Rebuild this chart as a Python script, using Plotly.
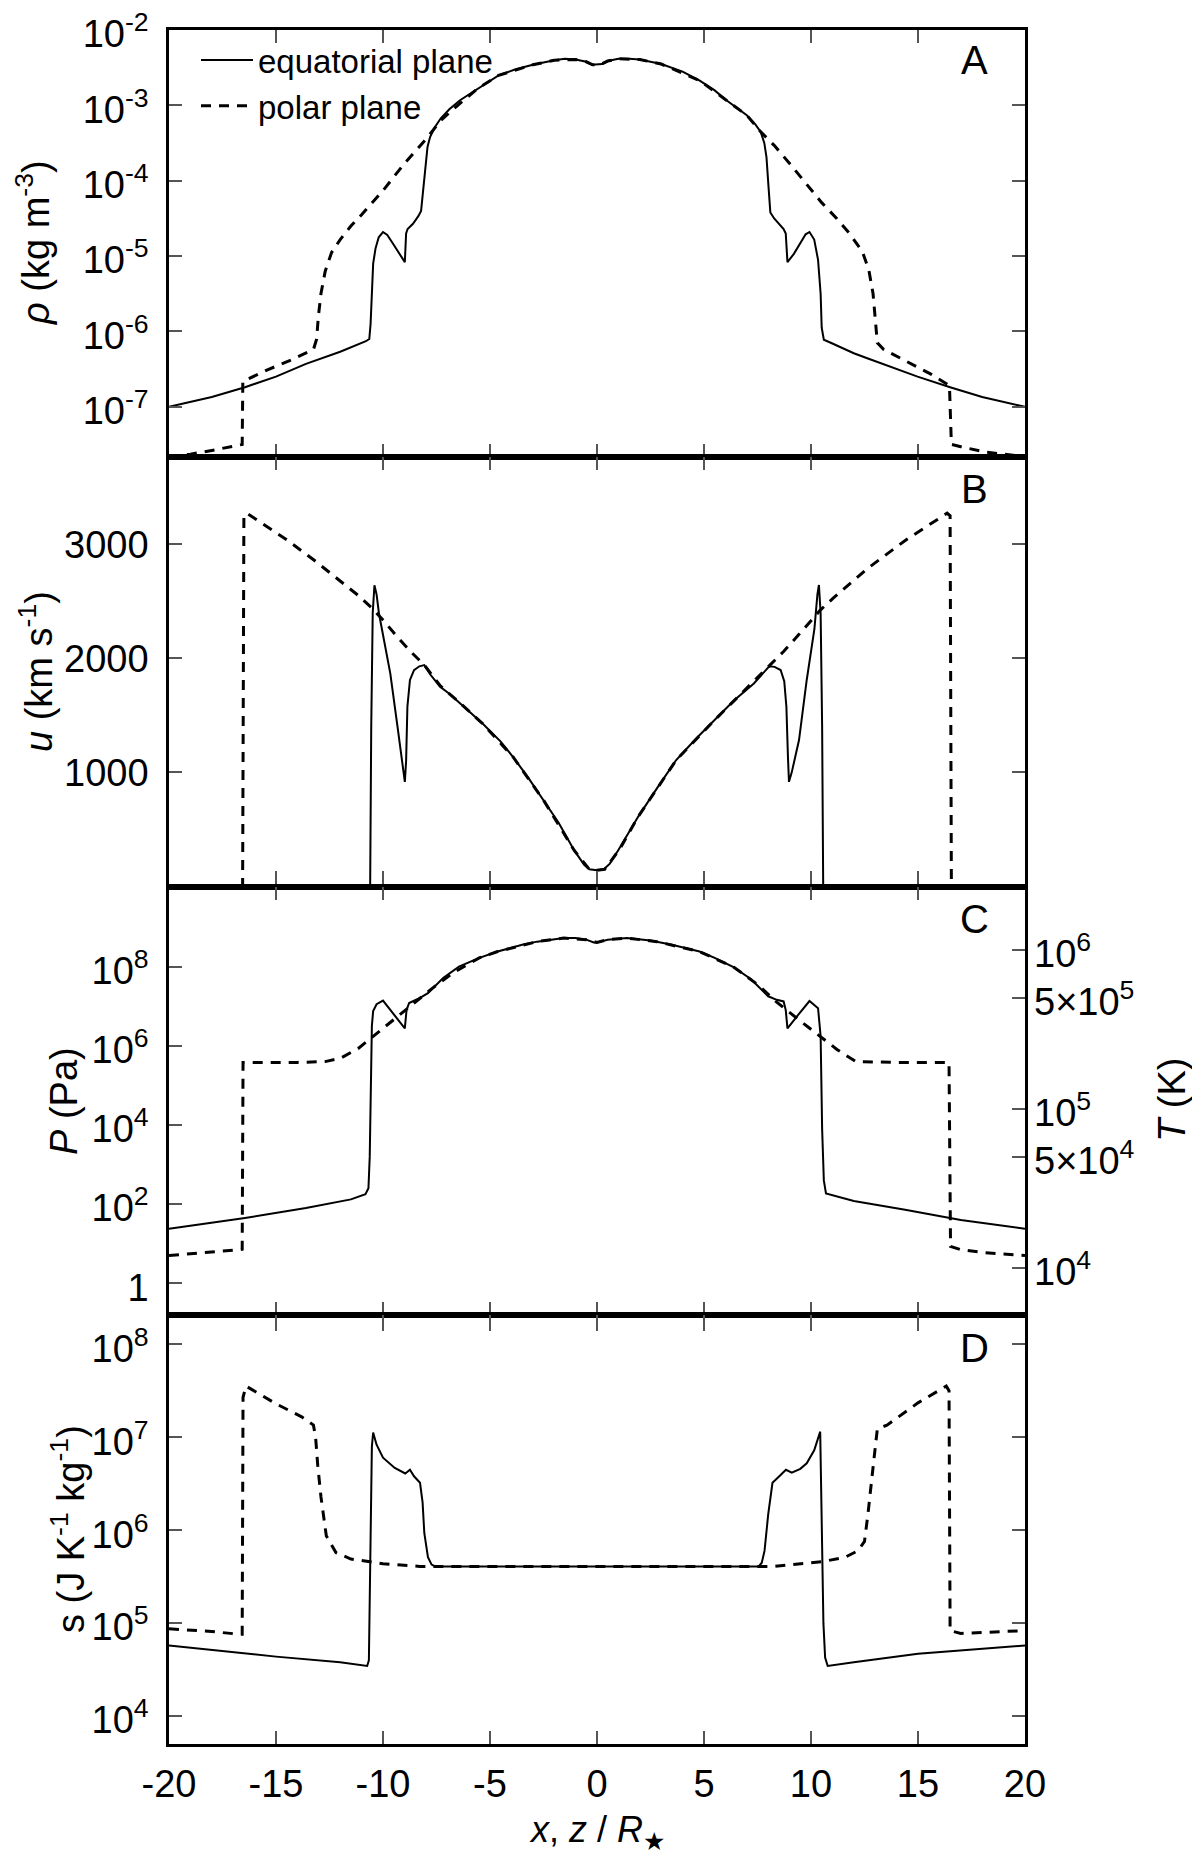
import plotly.graph_objects as go

# the page adds an 8 px body margin; positions below are page pixels and are
# shifted by this offset when converted to paper coordinates
PAGE_OFF = 8
W, H = 1200, 1861
FONT = "Liberation Sans, Arial, Helvetica, sans-serif"

# ---------------- data ----------------
x_ticks = [-20, -15, -10, -5, 0, 5, 10, 15, 20]
x_ticktext = ["-20", "-15", "-10", "-5", "0", "5", "10", "15", "20"]

# Panel A: density rho (kg m^-3), stored as log10(rho)
rho_eq_x = [-20.0, -18.0, -16.45, -15.0, -13.6, -12.0, -10.8, -10.64, -10.58, -10.52,
            -10.46, -10.35, -10.2, -10.0, -9.8, -9.5, -9.2, -8.98, -8.92, -8.85,
            -8.6, -8.35, -8.22, -8.12, -8.02, -7.92, -7.8, -7.6, -7.3, -6.9,
            -6.4, -5.6, -4.6, -3.8, -3.0, -2.0, -1.5, -1.0, -0.5, -0.25,
            0.0, 0.25, 0.5, 1.0, 1.5, 2.0, 3.0, 4.0, 4.8, 5.5,
            6.0, 6.5, 7.0, 7.4, 7.65, 7.82, 7.92, 8.02, 8.1, 8.28,
            8.5, 8.72, 8.82, 8.9, 9.2, 9.5, 9.75, 9.93, 10.15, 10.33,
            10.45, 10.5, 10.6, 11.0, 12.0, 12.66, 14.0, 14.98, 16.5, 18.0,
            20.0]
rho_eq_log10 = [-7.00, -6.87, -6.74, -6.60, -6.43, -6.27, -6.13, -6.10, -5.90, -5.40,
                -5.10, -4.90, -4.75, -4.68, -4.72, -4.85, -4.98, -5.08, -4.70, -4.64,
                -4.57, -4.47, -4.40, -4.10, -3.75, -3.55, -3.42, -3.30, -3.17, -3.05,
                -2.93, -2.78, -2.60, -2.52, -2.46, -2.40, -2.38, -2.39, -2.42, -2.46,
                -2.46, -2.45, -2.41, -2.38, -2.38, -2.39, -2.45, -2.55, -2.67, -2.80,
                -2.92, -3.02, -3.13, -3.25, -3.35, -3.50, -3.69, -4.10, -4.42, -4.50,
                -4.57, -4.64, -4.70, -5.08, -4.97, -4.82, -4.71, -4.68, -4.78, -5.05,
                -5.50, -5.95, -6.11, -6.16, -6.29, -6.36, -6.50, -6.60, -6.74, -6.87,
                -7.00]
rho_pol_x = [-20.0, -19.0, -18.0, -16.7, -16.58, -16.55, -16.3, -15.4, -14.3, -13.25,
             -13.1, -13.02, -12.9, -12.7, -12.4, -12.0, -11.5, -11.0, -10.0, -9.0,
             -8.0, -7.3, -6.6, -5.6, -4.6, -3.0, -2.0, -1.0, -0.5, -0.2,
             0.0, 0.2, 0.5, 1.0, 2.0, 3.0, 4.8, 6.0, 7.0, 7.65,
             8.28, 9.0, 9.62, 10.5, 11.2, 11.8, 12.4, 12.7, 12.9, 13.02,
             13.1, 13.4, 14.3, 15.56, 16.47, 16.56, 17.0, 18.1, 19.0, 20.0]
rho_pol_log10 = [-7.66, -7.63, -7.58, -7.50, -7.50, -6.66, -6.63, -6.51, -6.38, -6.24,
                 -6.10, -5.80, -5.50, -5.20, -4.95, -4.78, -4.60, -4.45, -4.13, -3.77,
                 -3.45, -3.20, -3.02, -2.78, -2.60, -2.46, -2.40, -2.39, -2.42, -2.46,
                 -2.46, -2.45, -2.41, -2.38, -2.39, -2.45, -2.67, -2.92, -3.13, -3.35,
                 -3.53, -3.77, -3.99, -4.29, -4.50, -4.70, -4.94, -5.18, -5.50, -5.85,
                 -6.15, -6.24, -6.37, -6.56, -6.72, -7.50, -7.53, -7.60, -7.63, -7.66]

# Panel B: velocity u (km/s)
u_eq_x = [-20.0, -10.6, -10.55, -10.48, -10.4, -10.3, -10.19, -9.66, -9.3, -9.08,
          -8.98, -8.92, -8.86, -8.74, -8.55, -8.3, -8.07, -7.8, -7.33, -6.9,
          -6.44, -5.36, -4.5, -3.93, -3.2, -2.5, -1.8, -1.07, -0.6, -0.36,
          0.0, 0.32, 0.6, 1.0, 1.92, 2.8, 3.7, 4.6, 5.5, 6.4,
          7.33, 7.8, 8.05, 8.3, 8.58, 8.75, 8.85, 8.92, 8.97, 9.1,
          9.44, 9.8, 10.16, 10.3, 10.37, 10.45, 10.52, 10.57, 20.0]
u_eq = [0, 0, 1400, 2400, 2640, 2560, 2395, 1868, 1371, 1050,
        917, 1100, 1576, 1810, 1897, 1930, 1941, 1860, 1751, 1690,
        1615, 1430, 1270, 1137, 950, 757, 560, 318, 190, 150,
        143, 150, 200, 320, 610, 860, 1108, 1290, 1459, 1630,
        1780, 1880, 1930, 1925, 1897, 1800, 1576, 1150, 917, 1000,
        1283, 1810, 2257, 2560, 2643, 2394, 1400, 0, 0]
u_pol_x = [-20.0, -16.56, -16.5, -16.36, -14.5, -13.23, -11.18, -10.51, -10.0, -9.3,
           -8.63, -8.07, -7.33, -6.44, -5.36, -3.93, -2.5, -1.07, -0.36, 0.0,
           0.36, 1.07, 1.92, 3.7, 5.5, 7.3, 8.05, 8.72, 9.44, 10.42,
           11.05, 12.66, 14.45, 16.36, 16.5, 16.56, 20.0]
u_pol = [0, 0, 3250, 3272, 3040, 2862, 2555, 2440, 2336, 2180,
         2044, 1941, 1760, 1615, 1430, 1137, 757, 318, 150, 143,
         150, 330, 610, 1108, 1459, 1800, 1935, 2060, 2210, 2420,
         2530, 2790, 3040, 3272, 3250, 0, 0]

# Panel C: pressure P (Pa), stored as log10(P)
P_eq_x = [-20.0, -16.45, -13.6, -11.5, -10.82, -10.68, -10.62, -10.57, -10.52, -10.46,
          -10.3, -10.0, -9.5, -8.98, -8.9, -8.78, -8.5, -8.27, -7.9, -7.19,
          -6.45, -5.5, -4.64, -3.5, -2.8, -1.55, -1.0, -0.5, -0.15, 0.0,
          0.15, 0.5, 1.39, 2.5, 3.5, 4.79, 5.5, 6.4, 7.2, 7.83,
          8.0, 8.4, 8.72, 8.82, 8.9, 9.4, 9.93, 10.33, 10.45, 10.52,
          10.6, 10.7, 12.0, 14.4, 17.0, 20.0]
P_eq_log10 = [1.38, 1.65, 1.90, 2.12, 2.25, 2.40, 3.2, 5.0, 6.5, 6.88,
              7.05, 7.14, 6.80, 6.44, 6.9, 7.08, 7.15, 7.21, 7.33, 7.71,
              8.0, 8.22, 8.38, 8.55, 8.63, 8.72, 8.72, 8.68, 8.61, 8.61,
              8.63, 8.68, 8.72, 8.66, 8.55, 8.38, 8.22, 7.98, 7.68, 7.35,
              7.25, 7.16, 7.12, 6.90, 6.44, 6.78, 7.13, 6.95, 6.24, 3.9,
              2.6, 2.27, 2.08, 1.86, 1.60, 1.38]
P_pol_x = [-20.0, -18.0, -16.7, -16.58, -16.54, -14.0, -12.7, -11.97, -11.14, -10.0,
           -9.13, -8.4, -7.7, -6.7, -5.5, -4.64, -2.8, -1.55, -0.5, 0.0,
           0.5, 1.39, 2.8, 4.79, 6.4, 7.5, 8.4, 9.35, 10.24, 11.23,
           12.1, 14.0, 16.45, 16.52, 17.0, 18.0, 20.0]
P_pol_log10 = [0.70, 0.78, 0.85, 0.86, 5.58, 5.58, 5.60, 5.69, 5.94, 6.44,
               6.82, 7.16, 7.45, 7.85, 8.22, 8.38, 8.63, 8.72, 8.68, 8.61,
               8.68, 8.72, 8.63, 8.38, 7.98, 7.55, 7.10, 6.69, 6.32, 5.90,
               5.60, 5.58, 5.58, 0.93, 0.85, 0.78, 0.70]

# Panel D: entropy s (J K^-1 kg^-1), stored as log10(s)
s_eq_x = [-20.0, -15.0, -12.0, -10.74, -10.66, -10.62, -10.58, -10.52, -10.46, -10.3,
          -10.0, -9.45, -8.96, -8.74, -8.55, -8.27, -8.15, -8.07, -7.9, -7.73,
          -7.55, -5.0, 0.0, 5.0, 7.56, 7.7, 7.83, 8.0, 8.2, 8.47,
          8.83, 9.1, 9.5, 9.8, 10.15, 10.43, 10.5, 10.58, 10.66, 10.78,
          12.0, 15.0, 20.0]
s_eq_log10 = [4.76, 4.64, 4.58, 4.54, 4.60, 5.2, 6.2, 6.9, 7.05, 6.92,
              6.78, 6.67, 6.61, 6.65, 6.58, 6.51, 6.3, 5.97, 5.71, 5.63,
              5.61, 5.61, 5.61, 5.61, 5.61, 5.65, 5.78, 6.17, 6.51, 6.57,
              6.65, 6.62, 6.66, 6.72, 6.86, 7.06, 6.17, 5.0, 4.63, 4.54,
              4.58, 4.67, 4.76]
s_pol_x = [-20.0, -18.0, -16.7, -16.58, -16.54, -16.4, -15.0, -13.8, -13.25, -13.15,
           -13.05, -12.9, -12.65, -12.2, -11.5, -10.0, -8.27, 0.0, 8.27, 9.1,
           10.5, 11.6, 12.2, 12.5, 12.66, 12.93, 13.1, 13.55, 15.0, 16.32,
           16.45, 16.5, 17.0, 20.0]
s_pol_log10 = [4.94, 4.91, 4.88, 4.88, 7.43, 7.55, 7.36, 7.22, 7.13, 7.0,
               6.7, 6.36, 5.94, 5.76, 5.69, 5.64, 5.61, 5.61, 5.61, 5.63,
               5.66, 5.71, 5.78, 5.88, 6.17, 6.74, 7.09, 7.13, 7.37, 7.55,
               7.50, 4.92, 4.89, 4.92]

# axis ticks
rho_tickvals = [1e-7, 1e-6, 1e-5, 1e-4, 1e-3, 1e-2]
rho_ticktext = ["10<sup>-7</sup>", "10<sup>-6</sup>", "10<sup>-5</sup>",
                "10<sup>-4</sup>", "10<sup>-3</sup>", "10<sup>-2</sup>"]
u_tickvals = [1000, 2000, 3000]
P_tickvals = [1, 1e2, 1e4, 1e6, 1e8]
P_ticktext = ["1", "10<sup>2</sup>", "10<sup>4</sup>", "10<sup>6</sup>", "10<sup>8</sup>"]
T_tickvals = [1e4, 5e4, 1e5, 5e5, 1e6]
T_ticktext = ["10<sup>4</sup>", "5×10<sup>4</sup>", "10<sup>5</sup>",
              "5×10<sup>5</sup>", "10<sup>6</sup>"]
s_tickvals = [1e4, 1e5, 1e6, 1e7, 1e8]
s_ticktext = ["10<sup>4</sup>", "10<sup>5</sup>", "10<sup>6</sup>",
              "10<sup>7</sup>", "10<sup>8</sup>"]

# ---------------- layout geometry (page pixels) ----------------
PX_L, PX_R = 169, 1025
PANEL_EDGES = [30, 457, 887, 1315, 1744]


def px_x(p):
    return (p - PAGE_OFF) / W


def px_y(p):
    return 1 - (p - PAGE_OFF) / H


def lin(vals):
    return [10 ** v for v in vals]


fig = go.Figure()
EQ_LINE = dict(color="black", width=2)
POL_LINE = dict(color="black", width=3, dash="10px,8px")

series = [
    ("x", "y", rho_eq_x, lin(rho_eq_log10), rho_pol_x, lin(rho_pol_log10)),
    ("x2", "y2", u_eq_x, u_eq, u_pol_x, u_pol),
    ("x3", "y3", P_eq_x, lin(P_eq_log10), P_pol_x, lin(P_pol_log10)),
    ("x4", "y4", s_eq_x, lin(s_eq_log10), s_pol_x, lin(s_pol_log10)),
]
for i, (xa, ya, ex, ey, px_, py_) in enumerate(series):
    fig.add_trace(go.Scatter(x=ex, y=ey, xaxis=xa, yaxis=ya, mode="lines",
                             line=EQ_LINE, name="equatorial plane",
                             showlegend=(i == 0), legendgroup="eq"))
for i, (xa, ya, ex, ey, px_, py_) in enumerate(series):
    fig.add_trace(go.Scatter(x=px_, y=py_, xaxis=xa, yaxis=ya, mode="lines",
                             line=POL_LINE, name="polar plane",
                             showlegend=(i == 0), legendgroup="pol"))
# carrier trace for the temperature axis
fig.add_trace(go.Scatter(x=[None], y=[None], xaxis="x3", yaxis="y5",
                         showlegend=False, hoverinfo="skip"))

TICKFONT = dict(family=FONT, size=38, color="black")
common = dict(ticks="inside", ticklen=13, tickwidth=1.5, tickcolor="#555",
              showline=True, linecolor="black", linewidth=2.5, automargin=False,
              ticklabeloverflow="allow",
              showgrid=False, zeroline=False, tickfont=TICKFONT)

xdom = [px_x(PX_L), px_x(PX_R)]
layout = dict(width=W, height=H,
              margin=dict(l=0, r=0, t=0, b=0, pad=0, autoexpand=False),
              paper_bgcolor="white", plot_bgcolor="white",
              font=dict(family=FONT, color="black"),
              showlegend=True,
              legend=dict(x=px_x(196), y=px_y(32), xanchor="left", yanchor="top",
                          font=dict(family=FONT, size=33, color="black"),
                          bgcolor="rgba(0,0,0,0)", tracegroupgap=0, itemwidth=52))

yranges = [[-7.667, -1.998], [-5, 3765], [-0.8, 10.01], [3.70, 8.315]]
ytypes = ["log", "linear", "log", "log"]
yshift = [4, 0, 4, 4]  # superscripted labels sit a little below their tick
yticks = [(rho_tickvals, rho_ticktext), (u_tickvals, [str(v) for v in u_tickvals]),
          (P_tickvals, P_ticktext), (s_tickvals, s_ticktext)]

for i in range(4):
    suffix = "" if i == 0 else str(i + 1)
    top, bot = PANEL_EDGES[i], PANEL_EDGES[i + 1]
    layout["xaxis" + suffix] = dict(
        common, domain=xdom, anchor="y" + suffix, range=[-20, 20],
        tickvals=x_ticks, ticktext=x_ticktext, mirror="allticks",
        showticklabels=(i == 3), ticklabelstandoff=5)
    layout["yaxis" + suffix] = dict(
        common, domain=[px_y(bot), px_y(top)], anchor="x" + suffix,
        type=ytypes[i], range=yranges[i], tickvals=yticks[i][0],
        ticktext=yticks[i][1], mirror=(True if i == 2 else "allticks"),
        ticklabelstandoff=10, ticklabelshift=yshift[i])

layout["yaxis5"] = dict(
    common, overlaying="y3", anchor="x3", side="right", type="log",
    range=[3.702, 6.397], tickvals=T_tickvals, ticktext=T_ticktext,
    showline=False, ticklabelstandoff=8, ticklabelshift=4)

fig.update_layout(**layout)

ann = [
    ("<i>ρ</i> (kg m<sup>-3</sup>)", 33, 243, -90, 38),
    ("<i>u</i> (km s<sup>-1</sup>)", 36, 672, -90, 38),
    ("<i>P</i> (Pa)", 64, 1101, -90, 38),
    ("s (J K<sup>-1</sup> kg<sup>-1</sup>)", 68, 1529, -90, 38),
    ("<i>T</i> (K)", 1172, 1100, -90, 38),
    ("<i>x</i>, <i>z</i> / <i>R</i><sub>★</sub>", 597, 1832, 0, 36),
    ("A", 974, 60, 0, 40), ("B", 974, 489, 0, 40),
    ("C", 974, 919, 0, 40), ("D", 974, 1348, 0, 40),
]
for text, ax_, ay_, ang, fs in ann:
    fig.add_annotation(text=text, x=px_x(ax_), y=px_y(ay_), xref="paper", yref="paper",
                       showarrow=False, textangle=ang,
                       font=dict(family=FONT, size=fs, color="black"),
                       xanchor="center", yanchor="middle")

fig.write_html("out.html")
